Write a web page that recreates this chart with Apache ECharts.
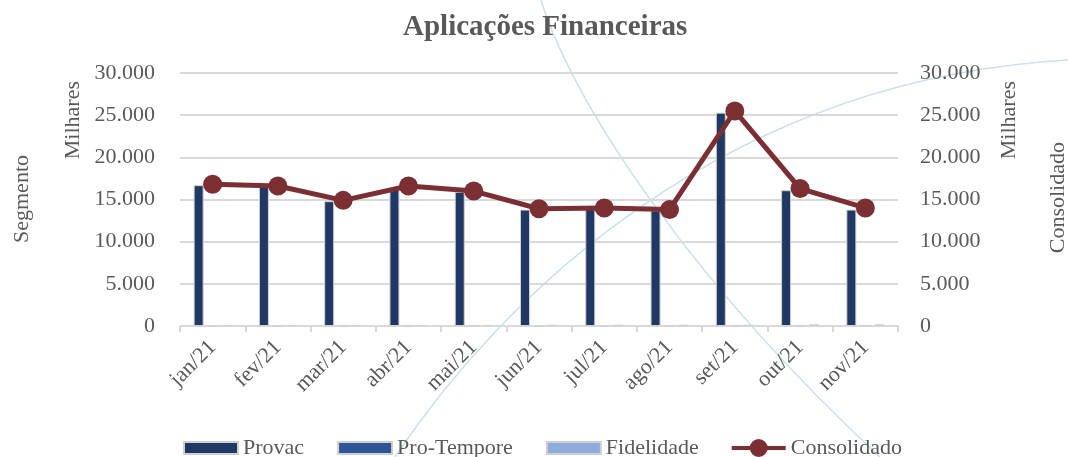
<!DOCTYPE html>
<html>
<head>
<meta charset="utf-8">
<script src="https://cdn.jsdelivr.net/npm/echarts@6/dist/echarts.min.js"></script>
<style>
  html, body { margin: 0; padding: 0; background: #fff; }
  #chart { width: 1068px; height: 457px; }
</style>
</head>
<body>
<div id="chart"></div>
<script>
// dados do gráfico
const meses = ['jan/21', 'fev/21', 'mar/21', 'abr/21', 'mai/21', 'jun/21', 'jul/21', 'ago/21', 'set/21', 'out/21', 'nov/21'];
const provac = [16700, 16500, 14800, 16400, 15900, 13800, 13900, 13700, 25300, 16100, 13800];
const proTempore = [0, 0, 0, 0, 0, 0, 0, 0, 0, 0, 0];
const fidelidade = [120, 120, 120, 120, 120, 150, 150, 150, 150, 200, 200];
const consolidado = [16800, 16600, 14900, 16600, 16000, 13900, 14000, 13800, 25500, 16300, 14000];

const fonte = '"Liberation Serif", "DejaVu Serif", serif';
const cinza = '#595959';

// ícones da legenda (caixa 54x18)
const iconeBarra = 'path://M0,0M0,3L54,3L54,15L0,15ZM54,18';
const iconeLinha = 'path://M0,7L54,7L54,11L0,11ZM36,9A9,9 0 1 1 18,9A9,9 0 1 1 36,9Z';

function fmt(v) {
  // separador de milhar com ponto
  return String(v).replace(/\B(?=(\d{3})+(?!\d))/g, '.');
}

const myChart = echarts.init(document.getElementById('chart'));

const barra = (nome, cor, dados) => ({
  name: nome,
  type: 'bar',
  data: dados,
  barWidth: 10,
  barGap: '40%',
  barCategoryGap: '41%',
  itemStyle: { color: cor, borderColor: '#d0d0d0', borderWidth: 1 }
});

const textoVertical = (txt, x, y) => ({
  type: 'text', left: x, top: y, rotation: Math.PI / 2,
  style: { text: txt, fontFamily: fonte, fontSize: 22, fill: cinza }
});

const option = {
  backgroundColor: '#fff',
  textStyle: { fontFamily: fonte, color: cinza },
  title: {
    text: 'Aplicações Financeiras',
    left: 398,
    top: 8,
    textStyle: { fontFamily: fonte, fontSize: 29, fontWeight: 'bold', color: cinza }
  },
  legend: {
    top: 432,
    left: 178,
    itemWidth: 54,
    itemHeight: 18,
    itemGap: 33,
    textStyle: { fontFamily: fonte, fontSize: 22, color: cinza },
    data: [
      { name: 'Provac', icon: iconeBarra },
      { name: 'Pro-Tempore', icon: iconeBarra },
      { name: 'Fidelidade', icon: iconeBarra },
      { name: 'Consolidado', icon: iconeLinha }
    ]
  },
  grid: { left: 180, right: 170, top: 73, bottom: 131, containLabel: false },
  xAxis: {
    type: 'category',
    data: meses,
    axisLine: { lineStyle: { color: '#d9d9d9', width: 2 } },
    axisTick: { show: true, length: 6, lineStyle: { color: '#d9d9d9', width: 2 } },
    axisLabel: { rotate: 45, fontSize: 22, color: cinza, fontFamily: fonte, margin: 18 }
  },
  yAxis: [
    {
      type: 'value', min: 0, max: 30000, interval: 5000,
      axisLine: { show: false }, axisTick: { show: false },
      splitLine: { lineStyle: { color: '#d9d9d9', width: 2 } },
      axisLabel: { fontSize: 22, color: cinza, fontFamily: fonte, margin: 25, formatter: fmt }
    },
    {
      type: 'value', min: 0, max: 30000, interval: 5000,
      axisLine: { show: false }, axisTick: { show: false },
      splitLine: { show: false },
      axisLabel: { fontSize: 22, color: cinza, fontFamily: fonte, margin: 22, formatter: fmt }
    }
  ],
  graphic: [
    { type: 'bezierCurve', z: -1, silent: true,
      shape: { x1: 541, y1: 0, x2: 880, y2: 457, cpx1: 575, cpy1: 110, cpx2: 700, cpy2: 290 },
      style: { stroke: '#c6e2ec', lineWidth: 1.5, fill: null } },
    { type: 'bezierCurve', z: -1, silent: true,
      shape: { x1: 395, y1: 457, x2: 1068, y2: 60, cpx1: 500, cpy1: 300, cpx2: 720, cpy2: 80 },
      style: { stroke: '#c6e2ec', lineWidth: 1.5, fill: null } },
    textoVertical('Segmento', 11, 155),
    textoVertical('Milhares', 62, 81),
    textoVertical('Milhares', 998, 81),
    textoVertical('Consolidado', 1047, 142)
  ],
  series: [
    barra('Provac', '#1f3864', provac),
    barra('Pro-Tempore', '#2f5597', proTempore),
    barra('Fidelidade', '#8faadc', fidelidade),
    {
      name: 'Consolidado',
      type: 'line',
      yAxisIndex: 1,
      data: consolidado,
      symbol: 'circle',
      symbolSize: 19,
      lineStyle: { color: '#7b2f33', width: 5 },
      itemStyle: { color: '#7b2f33' }
    }
  ]
};

if (option && typeof option === 'object') {
  myChart.setOption(option);
}
window.addEventListener('resize', myChart.resize);
</script>
</body>
</html>
